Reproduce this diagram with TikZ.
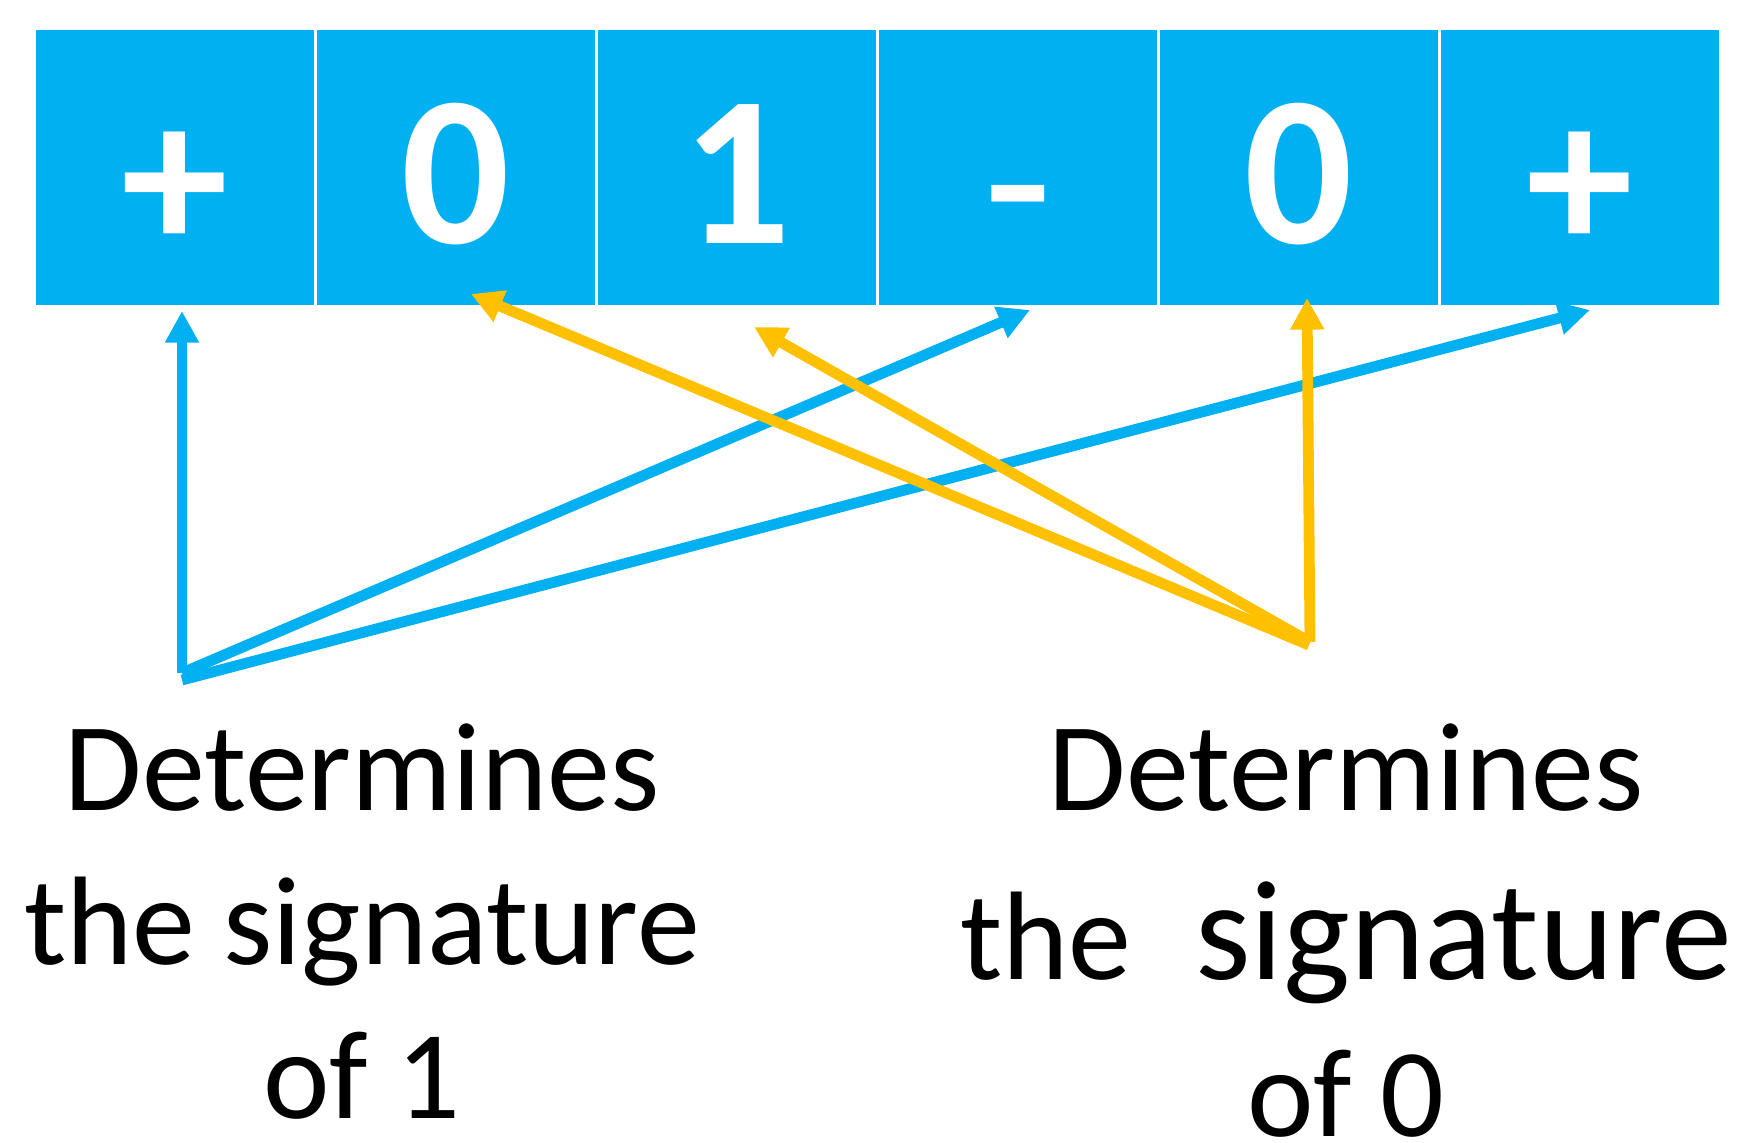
\documentclass[tikz,border=0pt]{standalone}
\usepackage{fontspec}
\setmainfont{Carlito}
\usetikzlibrary{arrows.meta}
\definecolor{cellblue}{HTML}{00B0F0}
\definecolor{signgold}{HTML}{FFC000}

\begin{document}
\begin{tikzpicture}[x=0.5pt,y=-0.5pt,
  cell/.style={fill=cellblue, draw=none, minimum width=139pt, minimum height=137.5pt,
               inner sep=0pt, anchor=north west},
  digit/.style={text=white, font=\fontsize{107}{107}\selectfont\bfseries,
                anchor=base, inner sep=2pt},
  txt/.style={text=black, font=\fontsize{63}{77}\selectfont, align=center,
              anchor=base, inner sep=4pt},
  link/.style={line width=5.4pt, -{Triangle[length=15.8pt,width=16pt]}},
  bluelink/.style={link, draw=cellblue},
  goldlink/.style={link, draw=signgold}]

\useasboundingbox (0,0) rectangle (1738,1142);

% the six cells of the sequence
\node[cell] (c1) at (36,30)   {};
\node[cell] (c2) at (317,30)  {};
\node[cell] (c3) at (598,30)  {};
\node[cell] (c4) at (879,30)  {};
\node[cell] (c5) at (1160,30) {};
\node[cell] (c6) at (1441,30) {};

% cell contents
\node[digit] (d1) at (175,250)  {+};
\node[digit] (d2) at (456,243)  {0};
\node[digit] (d3) at (737,243)  {1};
\node[digit] (d4) at (1018,239) {\scalebox{1}[0.75]{-}};
\node[digit] (d5) at (1299,243) {0};
\node[digit] (d6) at (1580,250) {+};

% arrow sources and tips
\coordinate (srcone)  at (182,673);
\coordinate (srconeb) at (182,680);
\coordinate (srczero) at (1310,642);
\coordinate (srczerob) at (1309,645);
\coordinate (tipa) at (182,311);
\coordinate (tipd) at (1030,310);
\coordinate (tipf) at (1590,310);
\coordinate (tipb) at (471,294);
\coordinate (tipc) at (754,327);
\coordinate (tipe) at (1307,298);

% signature of 1
\draw[bluelink] (srcone) -- (tipa);
\draw[bluelink] (srcone) -- (tipd);
\draw[bluelink] (srconeb) -- (tipf);

% signature of 0
\draw[goldlink] (srczerob) -- (tipb);
\draw[goldlink] (srczero) -- (tipc);
\draw[goldlink] (srczero) -- (tipe);

% captions
\node[txt] (capone) at (362,1118)
  {Determines\\the signature\\of 1};
\node[txt] (capzero) at (1346,1136)
  {Determines\\[7.5pt]the{\fontsize{71}{77}\selectfont\ \ signature}\\[1.5pt]of 0};
\end{tikzpicture}
\end{document}
